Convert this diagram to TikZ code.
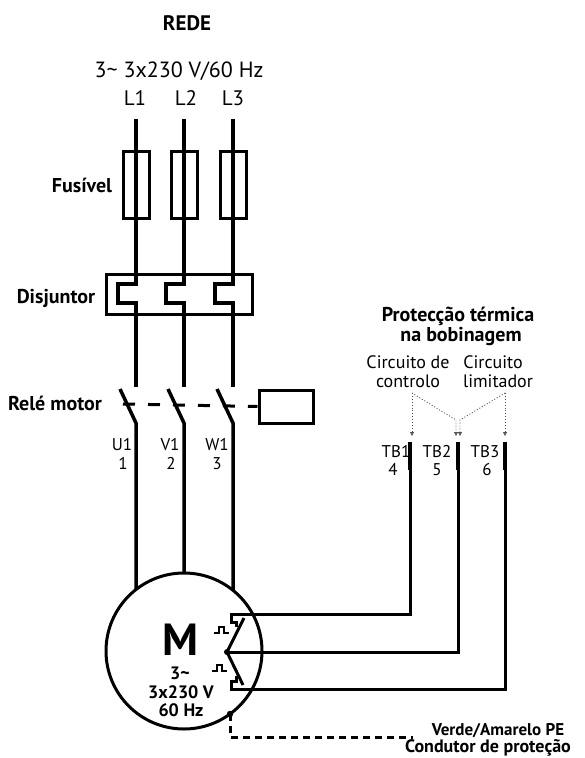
\documentclass[tikz,border=0pt]{standalone}
\usepackage{fontspec}
\setmainfont{PT Sans}
\usetikzlibrary{arrows.meta}
\begin{document}
\begin{tikzpicture}[x=1pt,y=-1pt,
  wire/.style={line width=3.5pt, line join=miter},
  box/.style={line width=3pt},
  lbl/.style={font=\fontsize{20}{22}\selectfont\bfseries, inner sep=0pt, anchor=base},
  txt/.style={font=\fontsize{18}{20}\selectfont, inner sep=0pt, anchor=base},
  sml/.style={font=\fontsize{17}{19}\selectfont, inner sep=0pt, anchor=base},
  big/.style={font=\fontsize{22}{24}\selectfont, inner sep=0pt, anchor=base},
  mot/.style={font=\fontsize{18}{19}\selectfont\bfseries, inner sep=0pt, anchor=base, text depth=0pt},
  ptr/.style={dotted, line width=0.9pt, draw=black!70, -{Triangle[open,length=4pt,width=4pt]}},
]
\useasboundingbox (0,0) rectangle (585,758);

% ---- texts
\node[lbl, font=\fontsize{21}{23}\selectfont\bfseries] (rede) at (187,30) {REDE};
\node[big] (volt) at (179,77) {3\textasciitilde{} 3x230 V/60 Hz};
\node[big, font=\fontsize{21}{23}\selectfont] (tL1) at (135,105) {L1};
\node[big, font=\fontsize{21}{23}\selectfont] (tL2) at (186,105) {L2};
\node[big, font=\fontsize{21}{23}\selectfont] (tL3) at (233,105) {L3};
\node[lbl] (fus) at (82,192) {Fusível};
\node[lbl] (dis) at (56,303) {Disjuntor};
\node[lbl] (rel) at (55,410) {Relé motor};
\node[lbl, text depth=0pt] (pt1) at (458,321) {Protecção térmica};
\node[lbl] (pt2) at (461,341) {na bobinagem};
\node[txt] (cc1) at (408,368) {Circuito de};
\node[txt] (cc2) at (408,387) {controlo};
\node[txt] (cl1) at (493,368) {Circuito};
\node[txt] (cl2) at (498,387) {limitador};
\node[sml] (tb1) at (396,457) {TB1};
\node[sml] (n4) at (393,475) {4};
\node[sml] (tb2) at (437,457) {TB2};
\node[sml] (n5) at (437,475) {5};
\node[sml] (tb3) at (485,457) {TB3};
\node[sml] (n6) at (487,475) {6};
\node[sml] (u1) at (122,450) {U1};
\node[sml] (n1) at (123,469) {1};
\node[sml] (v1) at (170,450) {V1};
\node[sml] (n2) at (171,469) {2};
\node[sml] (w1) at (217,450) {W1};
\node[sml] (n3) at (217,469) {3};
\node[lbl, font=\fontsize{17}{19}\selectfont\bfseries, text depth=0pt] (pe1) at (498,735.5) {Verde/Amarelo PE};
\node[lbl, font=\fontsize{18}{20}\selectfont\bfseries, text height=13pt] (pe2) at (488,752.5) {Condutor de proteção};

% ---- phase lines with breaker brackets
\foreach \x/\n in {136/a,184/b,233/c}{
  \coordinate (top\n) at (\x,119);
  \coordinate (sw\n) at (\x,387);
  \draw[wire] (top\n) -- (\x,284) -- (\x-18,284) -- (\x-18,303) -- (\x,303) -- (sw\n);
  \draw[wire] (\x-16,389) -- (\x,423) -- (\x,610);
  \draw[box] (\x-13,151) rectangle (\x+13,218);
}
% breaker box
\draw[box] (106,274) rectangle (252,314);
% relay mechanical link and coil
\node[draw, line width=3pt, minimum width=54pt, minimum height=33pt, inner sep=0pt] (coil) at (286,406.5) {};
\draw[line width=3pt, dash pattern=on 12pt off 13pt] (123,404) -- (coil.west);

% ---- motor
\node[draw, circle, line width=3pt, fill=white, minimum size=156pt, inner sep=0pt] (motor) at (184,651) {};
\node[font=\fontsize{45}{45}\selectfont\bfseries, inner sep=0pt, anchor=base, text depth=0pt, text height=32pt] (M) at (180,655) {M};
\node[mot] (m1) at (180,679.5) {3\textasciitilde};
\node[mot] (m2) at (181,698) {3x230 V};
\node[mot] (m3) at (181,716) {60 Hz};

% ---- thermal protection
\coordinate (star) at (227,652);
\draw[wire, line width=3pt] (410,442) -- (410,614) -- (231,614) -- (231,622) -- (236,622) -- (236,627);
\draw[wire, line width=3pt] (505,442) -- (505,689) -- (231,689) -- (231,681) -- (236,681) -- (236,676);
\draw[wire, line width=3pt] (244,618) -- (star) -- (243,685);
\draw[wire, line width=3pt] (star) -- (458,652) -- (458,442);
\draw[line width=4.5pt] (410,442) -- (410,470) (458,442) -- (458,470) (505,442) -- (505,470);
\fill (star) circle (3);
\draw[line width=2pt] (214,633) -- (219,633) -- (219,627) -- (224,627) -- (224,633) -- (229,633);
\draw[line width=2pt] (212,671) -- (217,671) -- (217,665) -- (222,665) -- (222,671) -- (227,671);

% ---- PE conductor
\coordinate (pe) at (230,714);
\coordinate (pec) at (230,737);
\coordinate (pee) at (413,737);
\fill (pe) circle (3.2);
\draw[line width=3pt, dash pattern=on 7pt off 5pt] (pe) -- (pec) -- (pee);

% ---- dotted pointers
\coordinate (pl) at (412,393);
\coordinate (pr) at (505,393);
\draw[ptr] (pl) -- (412,436);
\draw[ptr] (pl) -- (456,420) -- (456,436);
\draw[ptr] (pr) -- (460,420) -- (460,436);
\draw[ptr] (pr) -- (505,436);
\end{tikzpicture}
\end{document}
